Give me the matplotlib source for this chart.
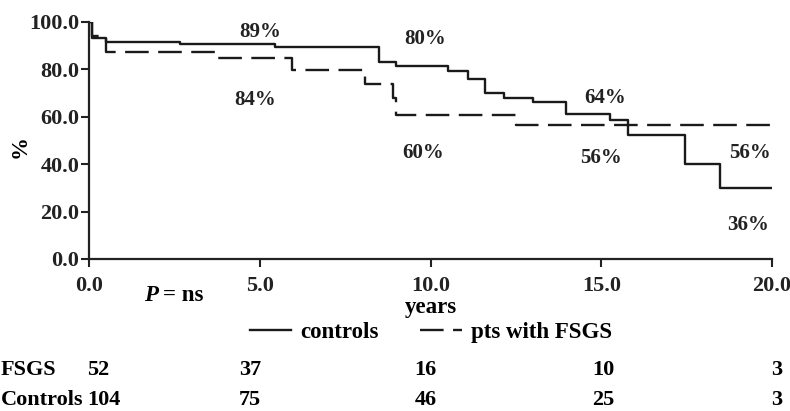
import matplotlib
matplotlib.use('Agg')
from matplotlib import pyplot as plt
from matplotlib import transforms

plt.rcParams['font.family'] = 'Liberation Serif'
plt.rcParams['font.weight'] = 'bold'

# Kaplan-Meier steps (years, %)
ctrl_t = [0, 0.1, 0.5, 2.66, 5.45, 8.49, 9.0, 10.5, 11.1, 11.6, 12.14, 13.0, 13.97, 15.26, 15.77, 17.46, 18.47, 20]
ctrl_s = [100, 93.3, 91.4, 90.8, 89.4, 83.2, 81.3, 79.5, 76.0, 70.2, 68.1, 66.4, 61.1, 58.6, 52.3, 40.1, 30.1, 30.1]
fsgs_t = [0, 0.1, 0.5, 3.78, 5.93, 8.07, 8.9, 9.0, 12.49, 20]
fsgs_s = [100, 94.0, 87.2, 84.7, 79.7, 74.0, 68.0, 60.7, 56.4, 56.4]

# percent labels on the plot
pct_text = ['89%', '84%', '80%', '60%', '64%', '56%', '56%', '36%']
pct_x = [5.0, 4.85, 9.85, 9.77, 15.1, 15.0, 19.35, 19.3]
pct_y = [95.8, 67.1, 92.7, 44.7, 68.1, 42.6, 44.7, 14.3]

# number at risk
risk_fsgs = ['52', '37', '16', '10', '3']
risk_ctrl = ['104', '75', '46', '25', '3']
risk_x = [-0.06, 4.39, 9.53, 14.74, 19.97]

fig = plt.figure(figsize=(7.9, 4.11), dpi=100)
ax = fig.add_axes([89/790, 1-259/411, (772-89)/790, (259-22)/411])

ax.plot(ctrl_t, ctrl_s, drawstyle='steps-post', color='#1a1a1a', lw=1.7, label='controls')
ax.plot(fsgs_t, fsgs_s, drawstyle='steps-post', color='#1a1a1a', lw=1.7,
        dashes=(10, 4), label='pts with FSGS')

for t, x, y in zip(pct_text, pct_x, pct_y):
    ax.text(x, y, t, ha='center', va='center', fontsize=15, color='#222222')

ax.set_xlim(0, 20)
ax.set_ylim(0, 100)
ax.set_xticks([0, 5, 10, 15, 20])
ax.set_xticklabels(['0.0', '5.0', '10.0', '15.0', '20.0'])
ax.set_yticks([0, 20, 40, 60, 80, 100])
ax.set_yticklabels(['0.0', '20.0', '40.0', '60.0', '80.0', '100.0'])
ax.tick_params(axis='both', labelsize=16, length=6, width=1.5, colors='#222222')
ax.tick_params(axis='x', pad=6)
ax.tick_params(axis='y', pad=1)
for s in ['top', 'right']:
    ax.spines[s].set_visible(False)
for s in ['left', 'bottom']:
    ax.spines[s].set_linewidth(1.6)
    ax.spines[s].set_color('#222222')
for lab in ax.get_xticklabels() + ax.get_yticklabels():
    lab.set_fontweight('bold')

fig.text(20/790, 1-147/411, '%', rotation=90, ha='center', va='center', fontsize=16.5)
fig.text(431/790, 1-307/411, 'years', ha='center', va='center', fontsize=16.5)
fig.text(158/790, 1-295/411, 'P', ha='right', va='center', fontsize=16.5, style='italic')
fig.text(163/790, 1-295/411, '= ns', ha='left', va='center', fontsize=16.5)

fig.legend(loc='center', bbox_to_anchor=(431/790, 1-332/411), ncol=2, frameon=False,
           fontsize=16.5, handlelength=1.8, handletextpad=0.4, columnspacing=1.8)

tr = transforms.blended_transform_factory(ax.transData, fig.transFigure)
fig.text(1/790, 1-370/411, 'FSGS', ha='left', va='center', fontsize=16)
fig.text(1/790, 1-400/411, 'Controls', ha='left', va='center', fontsize=16)
for x, a, b in zip(risk_x, risk_fsgs, risk_ctrl):
    ax.text(x, 1-370/411, a, transform=tr, ha='left', va='center', fontsize=16, clip_on=False)
    ax.text(x, 1-400/411, b, transform=tr, ha='left', va='center', fontsize=16, clip_on=False)

fig.savefig('out.png', dpi=100)
